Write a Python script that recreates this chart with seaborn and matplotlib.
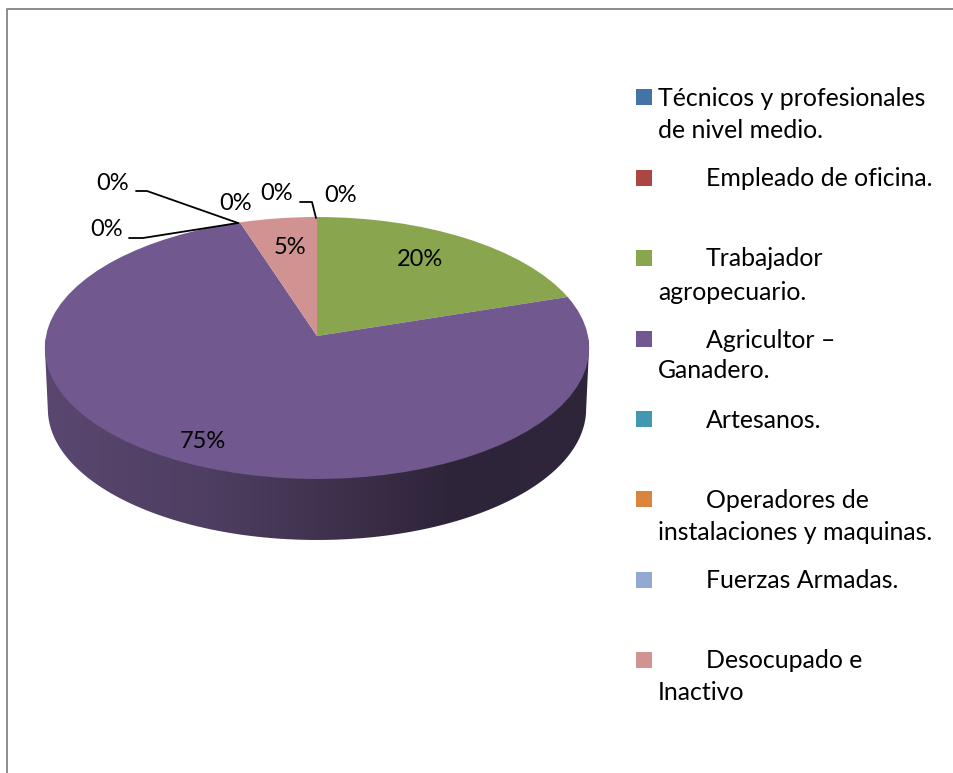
import numpy as np
import matplotlib
matplotlib.use("Agg")
import matplotlib.pyplot as plt
import seaborn as sns
from matplotlib.colors import LinearSegmentedColormap
from matplotlib.patches import Polygon, Rectangle
from matplotlib.transforms import Transform

categories = ["Técnicos y profesionales\nde nivel medio.", "Empleado de oficina.",
              "Trabajador\nagropecuario.", "Agricultor –\nGanadero.", "Artesanos.",
              "Operadores de\ninstalaciones y maquinas.", "Fuerzas Armadas.",
              "Desocupado e\nInactivo"]
values = [0, 0, 20, 75, 0, 0, 0, 5]
colors = ["#4572A7", "#AA4643", "#89A54E", "#71588F", "#4198AF", "#DB843D", "#93A9CF", "#D19392"]

W, H = 954, 773
sns.set_theme(style="white")
plt.rcParams["font.family"] = ["Lato", "DejaVu Sans"]
fig = plt.figure(figsize=(W / 100, H / 100), dpi=100, facecolor="white")
ax = fig.add_axes([0, 0, 1, 1])


class Tilt(Transform):
    """Perspective view of the unit pie."""
    input_dims = 2
    output_dims = 2
    is_affine = False

    def __init__(self, k=271.0, dy=0.0):
        super().__init__()
        self.k, self.dy = k, dy

    def transform_non_affine(self, v):
        v = np.asarray(v, float)
        w = 1 + 0.0916 * v[:, 1]
        return np.column_stack([317 + self.k * v[:, 0] / w,
                                (336 - 99.1 * v[:, 1]) / w + self.dy])


# side wall with horizontal shading
t = np.linspace(0, 2 * np.pi, 400)
circle = np.column_stack([np.cos(t), np.sin(t)])
top_pts = Tilt().transform_non_affine(circle)
low_pts = Tilt(k=268, dy=61).transform_non_affine(circle)
upper = top_pts[top_pts[:, 1] < 348]
upper = upper[np.argsort(upper[:, 0])]
lower = low_pts[low_pts[:, 1] >= 409]
lower = lower[np.argsort(-lower[:, 0])]
outline = np.vstack([upper, lower])
wall_cmap = LinearSegmentedColormap.from_list(
    "wall", [(0, "#5A4770"), (0.3, "#4E3E61"), (0.5, "#413350"), (0.75, "#2E2439"), (1, "#2F263B")])
im = ax.imshow(np.linspace(0, 1, 256)[None, :], cmap=wall_cmap, extent=(45, 589, 545, 340),
               aspect="auto", zorder=1)
im.set_clip_path(Polygon(outline, closed=True, transform=ax.transData))

# top face
wedges, _ = ax.pie(values, colors=colors, startangle=90, counterclock=False,
                   wedgeprops={"linewidth": 0, "zorder": 2})
tilt = Tilt()
for w in wedges:
    w.set_transform(tilt + ax.transData)
    w.set_zorder(2)

ax.set_aspect("auto")
ax.set_xlim(0, W)
ax.set_ylim(H, 0)
ax.axis("off")

# percentage labels
label_pos = [(341, 195), (277, 194), (420, 260), (203, 441), (236, 204), (113, 184), (107, 230), (290, 248)]
for v, (x, y) in zip(values, label_pos):
    ax.text(x, y, f"{v}%", fontsize=17, color="black", ha="center", va="center", zorder=5)

# leader lines
for xs, ys_ in [((136, 147, 238), (191, 191, 223)),
                ((129, 143, 238), (238, 238, 223)),
                ((300, 312, 316), (202, 202, 218))]:
    ax.plot(xs, ys_, color="black", lw=1.3, zorder=4)

# legend
ys = [(97, 129), (178,), (258, 291), (339, 370), (419,), (499, 532), (580,), (660, 692)]
for i, (name, col, yy) in enumerate(zip(categories, colors, ys)):
    ax.add_patch(Rectangle((636, yy[0] - 8), 16, 16, facecolor=col, edgecolor="none", zorder=3))
    for j, (line, y) in enumerate(zip(name.split("\n"), yy)):
        x = 658 if (i == 0 or j == 1) else 706
        ax.text(x, y + 1, line, fontsize=17.9, color="black", ha="left", va="center", zorder=5)

# page frame
ax.plot([7.5, 7.5, W], [H, 8.5, 8.5], color="#8C8C8C", lw=1.4, zorder=6, clip_on=False)

fig.savefig("out.png", dpi=100, facecolor="white")
